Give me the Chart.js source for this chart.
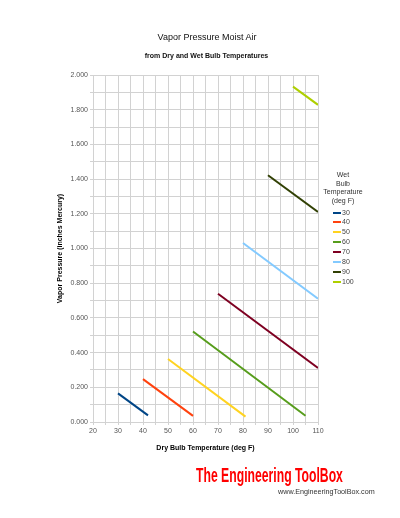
<!DOCTYPE html>
<html>
<head>
<meta charset="utf-8">
<script src="https://cdn.jsdelivr.net/npm/chart.js@4/dist/chart.umd.min.js"></script>
<style>
  body { margin: 0; background: #fff; font-family: "Liberation Sans", Arial, sans-serif; }
  #wrap { position: relative; width: 400px; height: 518px; overflow: hidden; }
  canvas { position: absolute; left: 0; top: 0; }
  .txt { position: absolute; white-space: nowrap; }
  #title { left: 0; width: 414px; top: 32px; text-align: center; font-size: 9px; color: #111; }
  #subtitle { left: 0; width: 413px; top: 52px; text-align: center; font-size: 7px; font-weight: bold; color: #111; }
  #legendTitle { left: 313px; width: 60px; top: 171px; text-align: center; font-size: 7px; line-height: 8.5px; color: #333; }
  .item { position: absolute; left: 333px; height: 10px; font-size: 7px; color: #444; }
  .item i { position: absolute; left: 0; top: 4px; width: 8px; height: 2px; }
  .item span { position: absolute; left: 9px; top: 0; line-height: 9px; }
  #logo { left: 196px; top: 463px; font-family: "Liberation Sans Narrow", "Liberation Sans", sans-serif; font-weight: bold; font-size: 21px; color: #ff0000; transform-origin: 0 0; }
  #url { left: 278px; top: 487px; font-size: 7.2px; color: #333; }
</style>
</head>
<body>
<div id="wrap">
  <canvas id="chart" width="400" height="518"></canvas>
  <div class="txt" id="title">Vapor Pressure Moist Air</div>
  <div class="txt" id="subtitle">from Dry and Wet Bulb Temperatures</div>
  <div class="txt" id="legendTitle">Wet<br>Bulb<br>Temperature<br>(deg F)</div>
  <div id="legend"></div>
  <div class="txt" id="logo">The Engineering ToolBox</div>
  <div class="txt" id="url">www.EngineeringToolBox.com</div>
</div>
<script>
// wet bulb temperature of each line (deg F)
const wetBulb = [30, 40, 50, 60, 70, 80, 90, 100];
// dry bulb range of each line (deg F)
const dryStart = [30, 40, 50, 60, 70, 80, 90, 100];
const dryEnd = [42, 60, 81, 105, 110, 110, 110, 110];
// vapor pressure at start / end of each line (inches Mercury)
const pStart = [0.165, 0.247, 0.363, 0.522, 0.739, 1.032, 1.422, 1.933];
const pEnd = [0.038, 0.035, 0.031, 0.036, 0.311, 0.711, 1.210, 1.828];

const colors = ['#004586', '#ff420e', '#ffd320', '#579d1c', '#7e0021', '#83caff', '#314004', '#aecf00'];

const datasets = wetBulb.map((t, i) => ({
  label: String(t),
  data: [{ x: dryStart[i], y: pStart[i] }, { x: dryEnd[i], y: pEnd[i] }],
  borderColor: colors[i],
  backgroundColor: colors[i],
  borderWidth: 2,
  pointRadius: 0,
  fill: false
}));

const legendEl = document.getElementById('legend');
wetBulb.forEach((t, i) => {
  const div = document.createElement('div');
  div.className = 'item';
  div.style.top = (207.5 + i * 9.86) + 'px';
  div.innerHTML = `<i style="background:${colors[i]}"></i><span>${t}</span>`;
  legendEl.appendChild(div);
});

const logo = document.getElementById('logo');
logo.style.transform = `scaleX(${147 / logo.offsetWidth})`;

const grid = '#d2d2d2';
const tickFont = { family: 'Liberation Sans', size: 7 };
const titleFont = { family: 'Liberation Sans', size: 7, weight: 'bold' };

new Chart(document.getElementById('chart'), {
  type: 'line',
  data: { datasets },
  options: {
    responsive: false,
    animation: false,
    maintainAspectRatio: false,
    layout: { padding: { left: 52, top: 75, right: 82, bottom: 62 } },
    plugins: { legend: { display: false }, tooltip: { enabled: false } },
    scales: {
      x: {
        type: 'linear',
        min: 20,
        max: 110,
        afterFit: (s) => { s.height = 34; },
        grid: { color: grid, tickLength: 3 },
        border: { color: grid },
        ticks: {
          stepSize: 5,
          autoSkip: false,
          maxRotation: 0,
          padding: 2,
          color: '#555',
          font: tickFont,
          callback: (v) => (v % 10 === 0 ? String(v) : '')
        },
        title: { display: true, text: 'Dry Bulb Temperature (deg F)', color: '#000', font: titleFont, padding: { top: 4, bottom: 4 } }
      },
      y: {
        min: 0,
        max: 2,
        afterFit: (s) => { s.width = 41; },
        grid: { color: grid, tickLength: 3 },
        border: { color: grid },
        ticks: {
          stepSize: 0.1,
          autoSkip: false,
          padding: 2,
          color: '#555',
          font: tickFont,
          callback: (v) => (Math.round(v * 10) % 2 === 0 ? v.toFixed(3) : '')
        },
        title: { display: true, text: 'Vapor Pressure (inches Mercury)', color: '#000', font: titleFont, padding: { top: 4, bottom: 4 } }
      }
    }
  }
});
</script>
</body>
</html>
